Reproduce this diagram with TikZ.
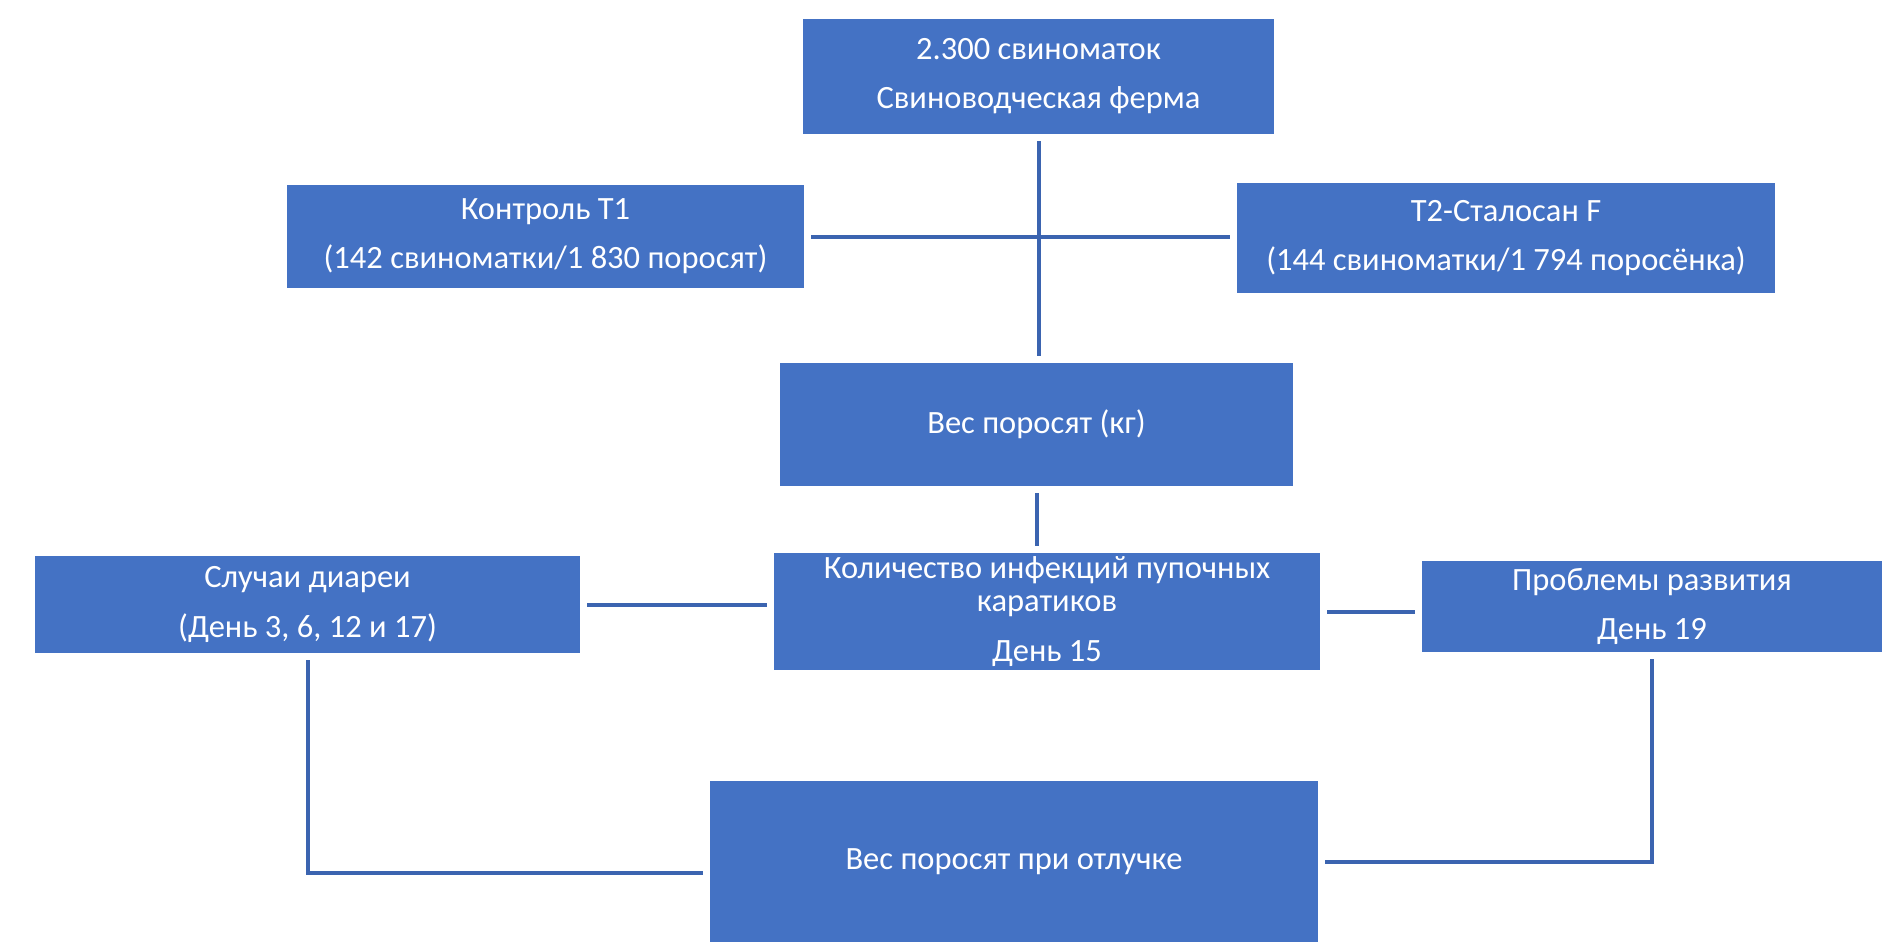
\documentclass[tikz,border=0pt]{standalone}
\usepackage{fontspec}
\setmainfont{Carlito}
\definecolor{boxblue}{HTML}{4472C4}
\definecolor{lineblue}{HTML}{3B64B0}

\begin{document}
\begin{tikzpicture}[x=0.02cm,y=-0.02cm,
  block/.style={fill=boxblue,text=white,inner sep=0pt,align=center,font=\fontsize{18.5}{28}\selectfont},
  link/.style={draw=lineblue,line width=0.08cm,shorten <=0.14cm,shorten >=0.14cm}]
\useasboundingbox (0,0) rectangle (1904,948);
\node[block,minimum width=9.42cm,minimum height=2.30cm] (farm) at (1038.5,76.5) {2.300 свиноматок\\Свиноводческая ферма};
\node[block,minimum width=10.34cm,minimum height=2.06cm] (ctrl) at (545.5,236.5) {Контроль T1\\(142 свиноматки/1 830 поросят)};
\node[block,minimum width=10.76cm,minimum height=2.20cm] (stal) at (1506,238) {T2-Сталосан F\\(144 свиноматки/1 794 поросёнка)};
\node[block,minimum width=10.26cm,minimum height=2.46cm] (weight) at (1036.5,424.5) {Вес поросят (кг)};
\node[block,minimum width=10.92cm,minimum height=2.34cm,font=\fontsize{18.5}{19}\selectfont] (navel) at (1047,611.5) {Количество инфекций пупочных\\каратиков\\[9.4pt]День 15};
\node[block,minimum width=10.90cm,minimum height=1.94cm] (diarr) at (307.5,604.5) {Случаи диареи\\(День 3, 6, 12 и 17)};
\node[block,minimum width=9.20cm,minimum height=1.82cm] (devel) at (1652,606.5) {Проблемы развития\\День 19};
\node[block,minimum width=12.16cm,minimum height=3.22cm] (wean) at (1014,861.5) {Вес поросят при отлучке};

\draw[link] (farm.south) -- (farm.south |- weight.north);
\draw[link] (ctrl.east) -- (ctrl.east -| stal.west);
\draw[link] (weight.south) -- (weight.south |- navel.north);
\draw[link] (diarr.east) -- (diarr.east -| navel.west);
\draw[link] (navel.east) -- (navel.east -| devel.west);
\draw[link] (diarr.south) |- ([yshift=-0.22cm]wean.west);
\draw[link] (devel.south) |- (wean.east);
\end{tikzpicture}
\end{document}
